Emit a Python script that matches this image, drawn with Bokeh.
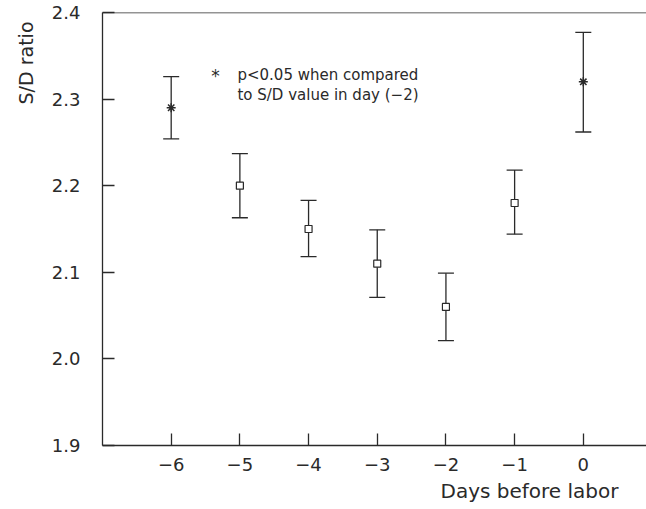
from bokeh.plotting import figure
from bokeh.models import (ColumnDataSource, Whisker, TeeHead, Label, Span,
                          FixedTicker, Title)
from bokeh.embed import file_html
from bokeh.resources import INLINE

# ---- data ----
days = [-6, -5, -4, -3, -2, -1, 0]
sd_mean = [2.29, 2.20, 2.15, 2.11, 2.06, 2.18, 2.32]
sd_upper = [2.326, 2.237, 2.183, 2.149, 2.099, 2.218, 2.377]
sd_lower = [2.254, 2.163, 2.118, 2.071, 2.021, 2.144, 2.262]
significant = [True, False, False, False, False, False, True]

x_ticks = [-6, -5, -4, -3, -2, -1, 0]
x_tick_labels = ["\u22126", "\u22125", "\u22124", "\u22123", "\u22122", "\u22121", "0"]
y_ticks = [1.9, 2.0, 2.1, 2.2, 2.3, 2.4]
y_tick_labels = ["1.9", "2.0", "2.1", "2.2", "2.3", "2.4"]

x_label = "Days before labor"
y_label = "S/D ratio"
note_line1 = "p<0.05 when compared"
note_line2 = "to S/D value in day (\u22122)"

FONT = "DejaVu Sans"
INK = "#2a2a2a"
FS_TICK = "18px"
FS_TITLE = "20px"
FS_NOTE = "15px"

p = figure(width=646, height=509, x_range=(-7, 0.92), y_range=(1.9, 2.4),
           output_backend="svg", toolbar_location=None,
           min_border_left=102, min_border_right=0, min_border_top=12,
           min_border_bottom=64)
p.outline_line_color = None
p.grid.visible = False
p.background_fill_color = "white"
p.border_fill_color = "white"

for ax in (p.xaxis[0], p.yaxis[0]):
    ax.axis_line_color = INK
    ax.axis_line_width = 1.3
    ax.major_tick_line_color = INK
    ax.major_tick_line_width = 1.3
    ax.major_tick_in = 12
    ax.major_tick_out = 0
    ax.minor_tick_line_color = None
    ax.major_label_text_font = FONT
    ax.major_label_text_font_size = FS_TICK
    ax.major_label_text_color = INK

p.xaxis.ticker = FixedTicker(ticks=x_ticks)
p.xaxis.major_label_overrides = {t: l for t, l in zip(x_ticks, x_tick_labels)}
p.xaxis.major_label_standoff = 12
p.yaxis.ticker = FixedTicker(ticks=y_ticks)
p.yaxis.major_label_overrides = {t: l for t, l in zip(y_ticks, y_tick_labels)}
p.yaxis.major_label_standoff = 22

# axis titles as side titles
p.add_layout(Title(text=x_label, align="left", offset=338, standoff=7,
                   text_font=FONT, text_font_size=FS_TITLE, text_color=INK,
                   text_font_style="normal"), "below")
p.add_layout(Title(text=y_label, align="right", offset=9, standoff=20,
                   vertical_align="top",
                   text_font=FONT, text_font_size="19px", text_color=INK,
                   text_font_style="normal"), "left")

# top frame line
p.add_layout(Span(location=2.4, dimension="width", line_color=INK, line_width=1.3))

src = ColumnDataSource(dict(x=days, y=sd_mean, upper=sd_upper, lower=sd_lower))
p.add_layout(Whisker(source=src, base="x", upper="upper", lower="lower",
                     line_color=INK, line_width=1.3,
                     upper_head=TeeHead(size=16, line_color=INK, line_width=1.3),
                     lower_head=TeeHead(size=16, line_color=INK, line_width=1.3)))

sig = ColumnDataSource(dict(x=[d for d, s in zip(days, significant) if s],
                            y=[m for m, s in zip(sd_mean, significant) if s]))
non = ColumnDataSource(dict(x=[d for d, s in zip(days, significant) if not s],
                            y=[m for m, s in zip(sd_mean, significant) if not s]))
p.scatter("x", "y", source=sig, marker="asterisk", size=9, line_color=INK,
          line_width=1.5)
p.scatter("x", "y", source=non, marker="square", size=7, line_color=INK,
          fill_color="white", line_width=1.2)

# annotation
p.add_layout(Label(x=-5.355, y=2.327, text="*", text_font=FONT,
                   text_font_size="17px", text_color=INK,
                   text_align="center", text_baseline="middle"))
p.add_layout(Label(x=-5.035, y=2.328, text=note_line1, text_font=FONT,
                   text_font_size=FS_NOTE, text_color=INK,
                   text_align="left", text_baseline="middle"))
p.add_layout(Label(x=-5.035, y=2.305, text=note_line2, text_font=FONT,
                   text_font_size=FS_NOTE, text_color=INK,
                   text_align="left", text_baseline="middle"))

open("out.html", "w").write(file_html(p, INLINE))
